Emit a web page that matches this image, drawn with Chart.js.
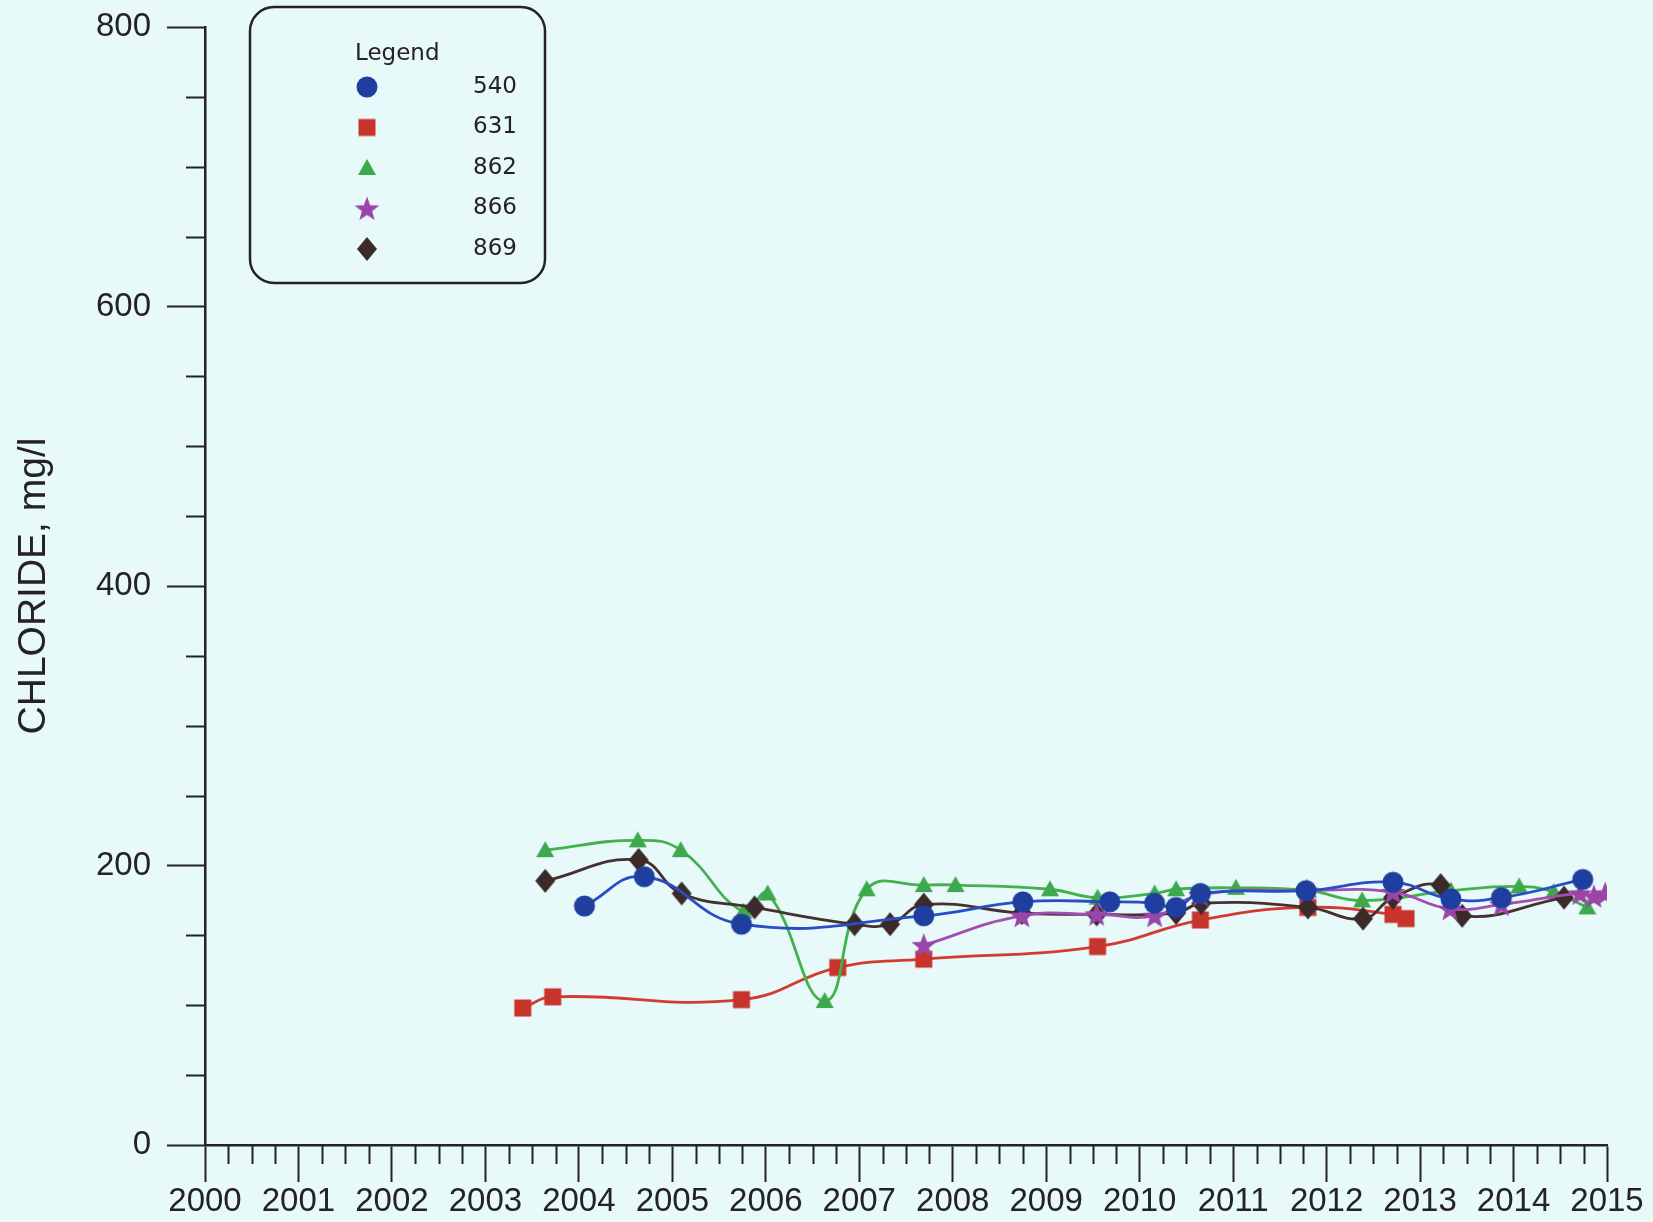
<!DOCTYPE html>
<html lang="en">
<head>
<meta charset="utf-8">
<title>Chloride</title>
<script src="https://cdn.jsdelivr.net/npm/chart.js@4/dist/chart.umd.min.js"></script>
<style>
  body { margin: 0; background: #e7f9f9; }
  #wrap { width: 1653px; height: 1222px; }
</style>
</head>
<body>
<div id="wrap"><canvas id="chloride" width="1653" height="1222"></canvas></div>

<script>
// well numbers and sample data (decimal year, chloride mg/l)
const seriesNames = ['540', '631', '862', '866', '869'];

const years540 = [2004.06, 2004.70, 2005.74, 2007.69, 2008.75, 2009.68, 2010.16, 2010.39, 2010.65, 2011.78, 2012.71, 2013.33, 2013.87, 2014.74];
const cl540    = [171, 192, 158, 164, 174, 174, 173, 170, 180, 182, 188, 176, 177, 190];

const years631 = [2003.40, 2003.72, 2005.74, 2006.77, 2007.69, 2009.55, 2010.65, 2011.80, 2012.71, 2012.85];
const cl631    = [98, 106, 104, 127, 133, 142, 161, 170, 165, 162];

const years862 = [2003.64, 2004.63, 2005.09, 2005.76, 2006.02, 2006.63, 2007.08, 2007.69, 2008.03, 2009.04, 2009.55, 2010.16, 2010.39, 2011.03, 2011.80, 2012.38, 2013.33, 2014.06, 2014.43, 2014.79];
const cl862    = [211, 218, 211, 167, 180, 103, 183, 186, 186, 183, 177, 180, 183, 184, 182, 175, 182, 185, 181, 170];

const years866 = [2007.69, 2008.74, 2009.54, 2010.16, 2010.65, 2011.79, 2012.71, 2013.32, 2013.87, 2014.71, 2014.86, 2014.98];
const cl866    = [143, 164, 165, 164, 179, 182, 181, 169, 172, 180, 178, 180];

const years869 = [2003.64, 2004.64, 2005.10, 2005.88, 2006.95, 2007.33, 2007.69, 2008.74, 2009.54, 2010.39, 2010.66, 2011.80, 2012.39, 2012.71, 2013.22, 2013.45, 2014.54];
const cl869    = [189, 204, 180, 170, 158, 158, 172, 166, 165, 166, 173, 170, 162, 177, 186, 164, 177];

const yearLabels = ['2000','2001','2002','2003','2004','2005','2006','2007','2008','2009','2010','2011','2012','2013','2014','2015'];
const yLabels = ['0', '200', '400', '600', '800'];

const ink = '#262222';

// marker pictures, also reused in the legend box
function makeMarker(shape, fill) {
  const c = document.createElement('canvas');
  c.width = 30; c.height = 30;
  const g = c.getContext('2d');
  const cx = 15, cy = 15;
  g.fillStyle = fill;
  g.beginPath();
  if (shape == 'circle') {
    g.arc(cx, cy, 10.5, 0, Math.PI * 2);
  } else if (shape == 'square') {
    g.rect(cx - 8.5, cy - 8.5, 17, 17);
  } else if (shape == 'triangle') {
    g.moveTo(cx, cy - 9); g.lineTo(cx + 9, cy + 7); g.lineTo(cx - 9, cy + 7); g.closePath();
  } else if (shape == 'star') {
    for (let i = 0; i < 10; i++) {
      const r = (i % 2) ? 5.4 : 13;
      const a = -Math.PI / 2 + i * Math.PI / 5;
      if (i == 0) g.moveTo(cx + r * Math.cos(a), cy + 1 + r * Math.sin(a));
      else g.lineTo(cx + r * Math.cos(a), cy + 1 + r * Math.sin(a));
    }
    g.closePath();
  } else { // diamond
    g.moveTo(cx, cy - 12); g.lineTo(cx + 10, cy); g.lineTo(cx, cy + 12); g.lineTo(cx - 10, cy); g.closePath();
  }
  g.fill();
  return c;
}

const markers = [
  makeMarker('circle',   '#1f3fa0'),
  makeMarker('square',   '#c8342c'),
  makeMarker('triangle', '#3da84c'),
  makeMarker('star',     '#9a46a8'),
  makeMarker('diamond',  '#3a2a2a')
];
const lineColors = ['#2a4cc4', '#d43b30', '#44b04e', '#a24eb2', '#463030'];

function pts(xs, ys) {
  return xs.map((x, i) => ({x: x, y: ys[i]}));
}
const allX = [years540, years631, years862, years866, years869];
const allY = [cl540, cl631, cl862, cl866, cl869];
const drawOrder = [0, 4, 3, 1, 2];   // blue on top, red at the bottom

const datasets = seriesNames.map((name, i) => ({
  label: name,
  data: pts(allX[i], allY[i]),
  borderColor: lineColors[i],
  borderWidth: 2.8,
  pointStyle: markers[i],
  pointRadius: 10,
  tension: 0.45,
  fill: false,
  order: drawOrder[i]
}));

// minor ticks + legend box, drawn on top of the scales
const extrasPlugin = {
  id: 'extras',
  afterDraw(chart) {
    const ctx = chart.ctx;
    const xs = chart.scales.x, ys = chart.scales.y;
    const x0 = xs.getPixelForValue(2000), y0 = ys.getPixelForValue(0);
    ctx.save();
    ctx.strokeStyle = ink;
    ctx.lineWidth = 2;
    ctx.beginPath();
    for (let q = 1; q < 60; q++) {
      if (q % 4 == 0) continue;
      const px = Math.round(xs.getPixelForValue(2000 + q / 4)) + 0.5;
      ctx.moveTo(px, y0); ctx.lineTo(px, y0 + 19);
    }
    for (let v = 50; v < 800; v += 50) {
      if (v % 200 == 0) continue;
      const py = Math.round(ys.getPixelForValue(v)) + 0.5;
      ctx.moveTo(x0, py); ctx.lineTo(x0 - 19, py);
    }
    ctx.stroke();

    // legend
    const bx = 250, by = 7, bw = 295, bh = 276, r = 24;
    ctx.lineWidth = 2.5;
    ctx.beginPath();
    ctx.moveTo(bx + r, by);
    ctx.arcTo(bx + bw, by, bx + bw, by + bh, r);
    ctx.arcTo(bx + bw, by + bh, bx, by + bh, r);
    ctx.arcTo(bx, by + bh, bx, by, r);
    ctx.arcTo(bx, by, bx + bw, by, r);
    ctx.closePath();
    ctx.stroke();

    ctx.fillStyle = ink;
    ctx.font = '23px "DejaVu Sans"';
    ctx.textBaseline = 'middle';
    ctx.textAlign = 'left';
    ctx.fillText('Legend', 355, 54);
    ctx.textAlign = 'right';
    for (let i = 0; i < seriesNames.length; i++) {
      const ry = 87 + i * 40.5;
      ctx.drawImage(markers[i], 367 - 15, ry - 15);
      ctx.fillText(seriesNames[i], 517, ry);
    }
    ctx.restore();
  }
};

new Chart(document.getElementById('chloride'), {
  type: 'line',
  data: { datasets: datasets },
  plugins: [extrasPlugin],
  options: {
    responsive: false,
    animation: false,
    layout: { padding: { top: 27, right: 46, left: 0, bottom: 0 } },
    plugins: { legend: { display: false }, tooltip: { enabled: false } },
    scales: {
      x: {
        type: 'linear',
        min: 2000, max: 2015,
        afterFit: (s) => { s.height = 77; },
        border: { display: true, color: ink, width: 2.5 },
        grid: { drawOnChartArea: false, drawTicks: true, tickLength: 37, tickColor: ink, tickWidth: 2 },
        ticks: {
          stepSize: 1, padding: 0, color: ink, maxRotation: 0, autoSkip: false,
          font: { family: '"Liberation Sans", Arial, sans-serif', size: 33 },
          callback: (v) => yearLabels[Math.round(v) - 2000]
        }
      },
      y: {
        min: 0, max: 800,
        afterFit: (s) => { s.width = 205; s.paddingTop = 0; s.paddingBottom = 0; },
        border: { display: true, color: ink, width: 2.5 },
        grid: { drawOnChartArea: false, drawTicks: true, tickLength: 38, tickColor: ink, tickWidth: 2 },
        ticks: {
          stepSize: 200, padding: 16, color: ink,
          font: { family: '"Liberation Sans", Arial, sans-serif', size: 33 },
          callback: (v) => yLabels[Math.round(v / 200)]
        },
        title: {
          display: true, text: 'CHLORIDE, mg/l', color: ink,
          font: { family: '"Liberation Sans", Arial, sans-serif', size: 39 },
          padding: { top: 11, bottom: 0 }
        }
      }
    }
  }
});
</script>
</body>
</html>
